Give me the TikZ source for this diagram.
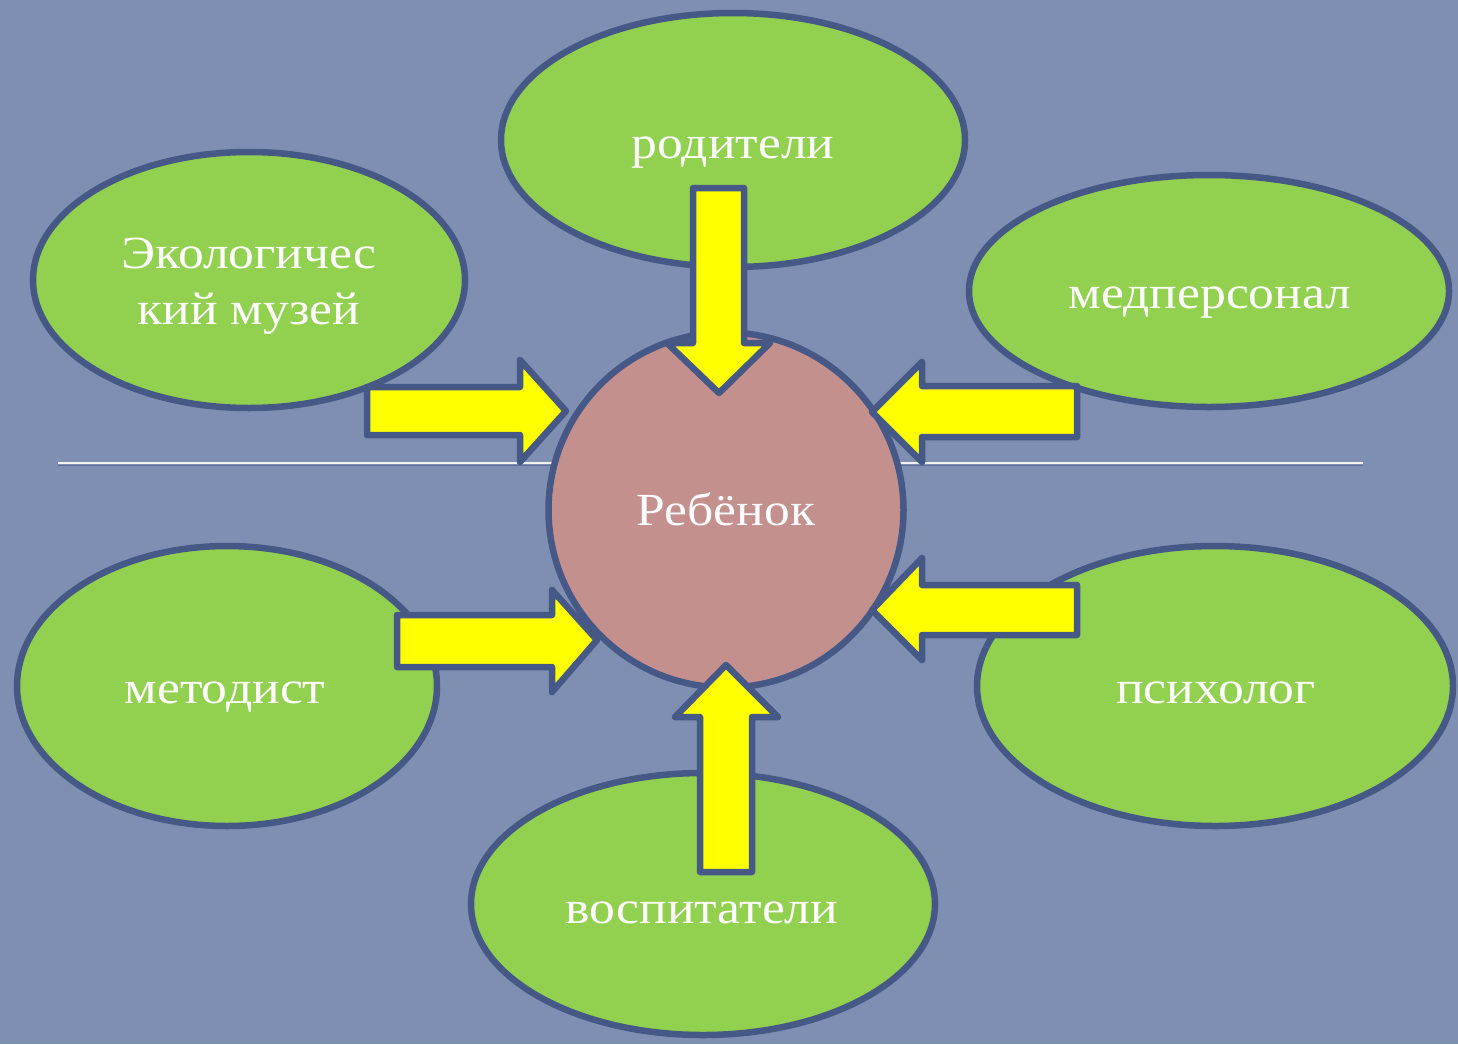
\documentclass[tikz,border=0pt]{standalone}
\usepackage{fontspec}
\setmainfont[FakeStretch=1.12]{Liberation Serif}
\usetikzlibrary{shapes.geometric}
\definecolor{bg}{HTML}{7F8FB1}
\definecolor{edge}{HTML}{465886}
\definecolor{leaf}{HTML}{92D050}
\definecolor{core}{HTML}{C4908E}
\definecolor{arrowfill}{HTML}{FFFF00}
\tikzset{
  oval/.style={ellipse, draw=edge, fill=leaf, line width=6.5pt, inner sep=0pt},
  hub/.style={circle, draw=edge, fill=core, line width=6.5pt, inner sep=0pt},
  lbl/.style={anchor=base, inner sep=0pt, text=white, align=center,
    font=\fontsize{46}{54}\selectfont},
  blockarrow/.style={draw=edge, fill=arrowfill, line width=6.5pt, line join=round},
  divider/.style={draw=white!90!gray, line width=2pt}
}
\begin{document}
\begin{tikzpicture}[x=1pt,y=-1pt]
\fill[bg] (0,0) rectangle (1458,1044);
\useasboundingbox (0,0) rectangle (1458,1044);
% divider line with faint shadow
\draw[draw=edge!60!bg, line width=1.5pt] (58,465.5) -- (1363,465.5);
\draw[divider] (58,463) -- (1363,463);

% ellipses
\node[oval, minimum width=464pt, minimum height=254pt] (rod) at (733,140) {};
\node[oval, minimum width=432pt, minimum height=256pt] (eco) at (249,280) {};
\node[oval, minimum width=480pt, minimum height=232pt] (med) at (1209,291) {};
\node[oval, minimum width=420pt, minimum height=280pt] (met) at (227,686) {};
\node[oval, minimum width=476pt, minimum height=280pt] (psy) at (1215,686) {};
\node[oval, minimum width=464pt, minimum height=262pt] (vos) at (703,904) {};

% centre
\node[hub, minimum size=355pt] (child) at (726,510) {};

% labels
\node[lbl] (t-rod) at (733,158) {родители};
\node[lbl] (t-eco1) at (249,268) {Экологичес};
\node[lbl] (t-eco2) at (249,324) {кий музей};
\node[lbl] (t-med) at (1210,308) {медперсонал};
\node[lbl] (t-met) at (225,703) {методист};
\node[lbl] (t-psy) at (1216,703) {психолог};
\node[lbl] (t-vos) at (702,923) {воспитатели};
\node[lbl] (t-child) at (726,525) {Ребёнок};

% block arrows
% top (parents -> child)
\draw[blockarrow] (693,188) -- (744,188) -- (744,343) -- (770,343) -- (719,393)
  -- (667,343) -- (693,343) -- cycle;
% bottom (educators -> child)
\draw[blockarrow] (700,872) -- (752,872) -- (752,717) -- (778,717) -- (726,665)
  -- (675,717) -- (700,717) -- cycle;
% upper left (museum -> child)
\draw[blockarrow] (367,387) -- (520,387) -- (520,360) -- (566,411) -- (520,462)
  -- (520,435) -- (367,435) -- cycle;
% lower left (methodist -> child)
\draw[blockarrow] (397,615) -- (552,615) -- (552,590) -- (597,640) -- (552,692)
  -- (552,667) -- (397,667) -- cycle;
% upper right (medical staff -> child)
\draw[blockarrow] (1077,386) -- (922,386) -- (922,362) -- (872,412) -- (922,462)
  -- (922,437) -- (1077,437) -- cycle;
% lower right (psychologist -> child)
\draw[blockarrow] (1077,585) -- (922,585) -- (922,558) -- (872,610) -- (922,660)
  -- (922,635) -- (1077,635) -- cycle;
\end{tikzpicture}
\end{document}
